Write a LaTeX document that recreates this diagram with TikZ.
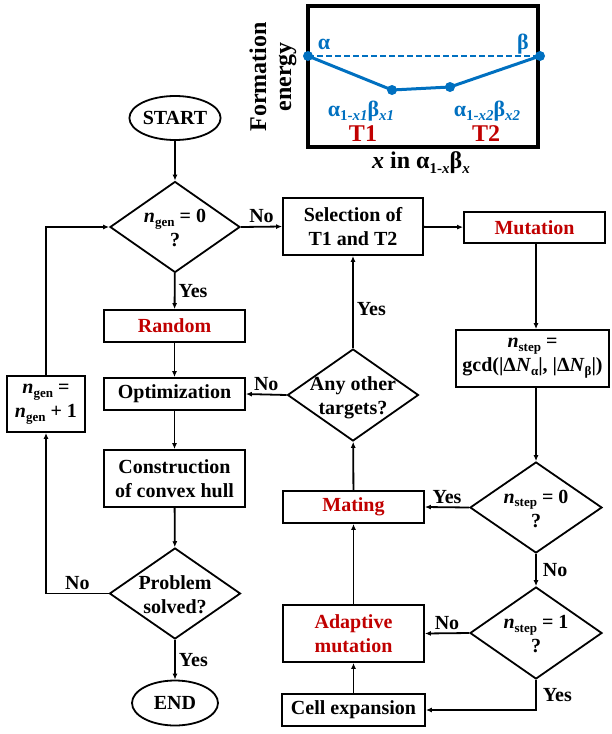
\documentclass[tikz,border=0pt]{standalone}
\usepackage{fontspec}
\setmainfont{Liberation Serif}
\usetikzlibrary{shapes.geometric}
\usetikzlibrary{arrows.meta}
\definecolor{myblue}{RGB}{0,112,192}
\definecolor{myred}{RGB}{192,0,0}

\newcommand{\lsub}[1]{\raisebox{-0.4ex}{\fontsize{13}{13}\selectfont #1}}
\newcommand{\isub}[1]{\raisebox{-0.45ex}{\fontsize{15}{15}\selectfont #1}}
\newcommand{\dtext}[1]{\makebox[0pt]{\smash{\raisebox{-0.4em}{\begin{tabular}{@{}c@{}}#1\end{tabular}}}}}

\tikzset{
  flow/.style={draw, line width=1.8pt, inner sep=0pt, align=center,
    font=\fontsize{20}{24}\selectfont\bfseries},
  box/.style={flow, rectangle},
  decision/.style={flow, diamond},
  terminal/.style={flow, ellipse},
  link/.style={-{Latex[length=6pt,width=5pt]}, line width=1.8pt},
  tag/.style={font=\fontsize{20}{24}\selectfont\bfseries, inner sep=3pt},
  inset/.style={inner sep=2pt, font=\fontsize{22}{24}\selectfont\bfseries}
}

\begin{document}
\begin{tikzpicture}[x=1pt,y=-1pt]
		\useasboundingbox (0,0) rectangle (611,734);

		% inset: formation energy
		\draw[line width=3.5pt] (308,6) rectangle (538,147);
		\draw[myblue, dash pattern=on 6pt off 3pt, line width=1.6pt] (308,56) -- (540,56);
		\draw[myblue, line width=3pt] (308,56) -- (392,90) -- (450,87) -- (540,56);
		\fill[myblue] (308,56) circle (5pt) (392,90) circle (5pt) (450,87) circle (5pt) (540,56) circle (5pt);
		\node[inset, myblue] (alpha) at (324,44) {α};
		\node[inset, myblue] (beta) at (523,44) {β};
		\node[inset, myblue] (tone) at (361,111) {α\isub{1-\textit{x1}}β\isub{\textit{x1}}};
		\node[inset, myblue] (ttwo) at (487,111) {α\isub{1-\textit{x2}}β\isub{\textit{x2}}};
		\node[inset, myred, font=\fontsize{24}{26}\selectfont\bfseries] (Tone) at (363,134) {T1};
		\node[inset, myred, font=\fontsize{24}{26}\selectfont\bfseries] (Ttwo) at (486,134) {T2};
		\node[inset, font=\fontsize{24}{26}\selectfont\bfseries] (xaxis) at (421,163) {\textit{x} in α\isub{1-\textit{x}}β\isub{\textit{x}}};
		\node[inset, rotate=90, align=center, font=\fontsize{24}{25}\selectfont\bfseries] (yaxis) at (273,77) {Formation\\energy};

		% left column
		\node[terminal, minimum width=86, minimum height=44] (start) at (175,118) {START};
		\node[decision, minimum width=130, minimum height=91] (qgen) at (175,227) {\dtext{\textit{n}\lsub{gen} = 0\\?}};
		\node[box, minimum width=141, minimum height=32, text=myred] (random) at (174.5,326) {Random};
		\node[box, minimum width=141, minimum height=32] (optim) at (174.5,394) {Optimization};
		\node[box, minimum width=141, minimum height=57] (hull) at (174.5,478.5) {Construction\\of convex hull};
		\node[decision, minimum width=131, minimum height=91] (qsolved) at (175,593.5) {\dtext{Problem\\solved?}};
		\node[terminal, minimum width=86, minimum height=45] (finish) at (175,703) {END};
		\node[box, minimum width=78, minimum height=56] (incr) at (46,404) {\textit{n}\lsub{gen} =\\\textit{n}\lsub{gen} + 1};

		% right part
		\node[box, minimum width=140, minimum height=57] (select) at (353,226.5) {Selection of\\T1 and T2};
		\node[box, minimum width=141, minimum height=31, text=myred] (mutate) at (534.5,227.5) {Mutation};
		\node[box, minimum width=153, minimum height=57] (nstep) at (532.5,358.5) {\textit{n}\lsub{step} =\\gcd(|Δ\textit{N}\lsub{α}|, |Δ\textit{N}\lsub{β}|)};
		\node[decision, minimum width=131, minimum height=92] (qother) at (353,395) {\dtext{Any other\\targets?}};
		\node[box, minimum width=141, minimum height=32, text=myred] (mating) at (353.5,507) {Mating};
		\node[decision, minimum width=132, minimum height=91] (qzero) at (536,507.5) {\dtext{\textit{n}\lsub{step} = 0\\?}};
		\node[decision, minimum width=132, minimum height=92] (qone) at (536,633) {\dtext{\textit{n}\lsub{step} = 1\\?}};
		\node[box, minimum width=141, minimum height=57, text=myred] (adapt) at (353.5,633.5) {Adaptive\\mutation};
		\node[box, minimum width=143, minimum height=32] (cell) at (353.5,710) {Cell expansion};

		% connectors
		\draw[link] (start) -- (qgen);
		\draw[link] (qgen) -- node[tag, right] {Yes} (random);
		\draw[link] (random) -- (optim);
		\draw[link] (optim) -- (hull);
		\draw[link] (hull) -- (qsolved);
		\draw[link] (qsolved) -- node[tag, right] {Yes} (finish);
		\draw[link] (qsolved.west) -- node[tag, above] {No} (qsolved.west -| incr.south) -- (incr.south);
		\draw[link] (incr.north) |- (qgen.west);
		\draw[link] (qgen.east) -- node[tag, above] {No} (select.west);
		\draw[link] (select) -- (mutate);
		\draw[link] (mutate.south -| qzero.north) -- (nstep.north -| qzero.north);
		\draw[link] (nstep.south -| qzero.north) -- (qzero.north);
		\draw[link] (qzero.west) -- node[tag, above] {Yes} (mating.east);
		\draw[link] (qzero) -- node[tag, right, xshift=3pt] {No} (qone);
		\draw[link] (qone.west) -- node[tag, above] {No} (adapt.east);
		\draw[link] (qone.south) -- node[tag, right, xshift=3pt] {Yes} (qone.south |- cell.east) -- (cell.east);
		\draw[link] (cell) -- (adapt);
		\draw[link] (adapt) -- (mating);
		\draw[link] (mating) -- (qother);
		\draw[link] (qother) -- node[tag, right, pos=0.42] {Yes} (select);
		\draw[link] (qother.west) -- node[tag, above] {No} (optim.east);
	\end{tikzpicture}
\end{document}
